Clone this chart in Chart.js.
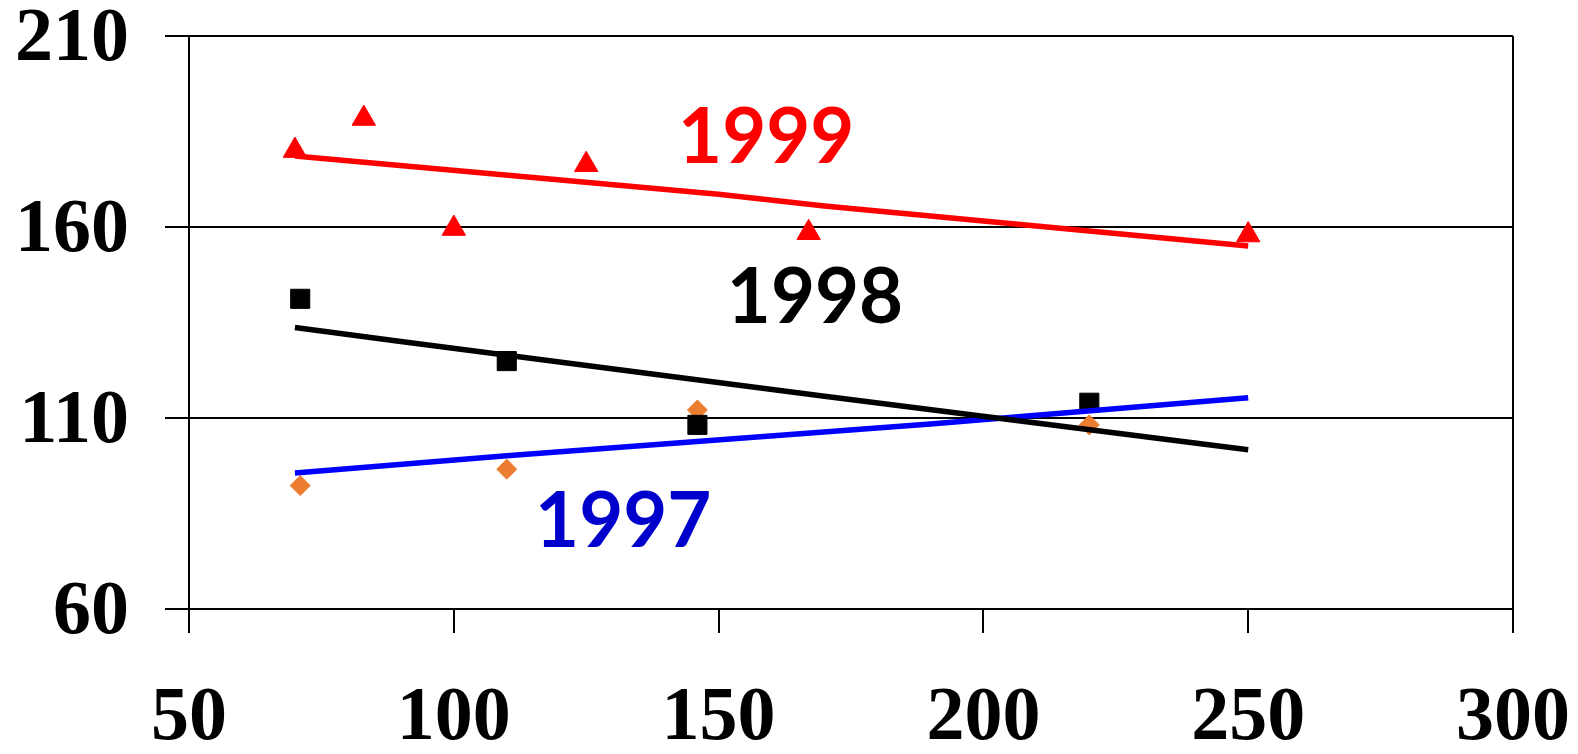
<!DOCTYPE html>
<html>
<head>
<meta charset="utf-8">
<script src="https://cdn.jsdelivr.net/npm/chart.js@4.4.1/dist/chart.umd.min.js"></script>
<style>
  html, body { margin: 0; padding: 0; background: #fff; }
  #chart { display: block; }
</style>
</head>
<body>
<canvas id="chart" width="1578" height="754"></canvas>
<script>
// axis ticks
const xTicks = [50, 100, 150, 200, 250, 300];
const yTicks = [60, 110, 160, 210];

// measured points (markers)
const x1999 = [70, 83, 100, 125, 167, 250];
const y1999 = [180.0, 188.4, 159.6, 176.3, 158.5, 157.9];
const x1998 = [71, 110, 146, 220];
const y1998 = [141.2, 124.9, 108.2, 114.0];
const x1997 = [71, 110, 146, 220];
const y1997 = [92.3, 96.6, 112.1, 108.2];

// trend lines
const line1999X = [70, 150, 170, 250];
const line1999Y = [178.6, 168.6, 165.5, 155.0];
const line1998X = [70, 90, 170, 250];
const line1998Y = [133.7, 130.0, 115.7, 101.7];
const line1997X = [70, 110, 190, 250];
const line1997Y = [95.6, 100.1, 108.4, 115.3];

// year labels inside the plot (data coordinates)
const labelText = ["1999", "1998", "1997"];
const labelX = [159.0, 168.2, 132.0];
const labelY = [183.1, 141.3, 82.6];
const labelColor = ["#ff0000", "#000000", "#0000cc"];

function pts(xs, ys) {
    return xs.map((x, i) => ({ x: x, y: ys[i] }));
}

const yearLabels = {
    id: "yearLabels",
    afterDatasetsDraw(chart) {
        const ctx = chart.ctx;
        const xs = chart.scales.x, ys = chart.scales.y;
        ctx.save();
        ctx.font = "bold 76px Lato";
        ctx.textAlign = "center";
        ctx.textBaseline = "middle";
        labelText.forEach((t, i) => {
            ctx.fillStyle = labelColor[i];
            ctx.fillText(t, xs.getPixelForValue(labelX[i]), ys.getPixelForValue(labelY[i]));
        });
        ctx.restore();
    }
};

function lineSet(xs, ys, color) {
    return {
        data: pts(xs, ys),
        showLine: true,
        borderColor: color,
        borderWidth: 5.5,
        pointRadius: 0,
        fill: false
    };
}

function markSet(xs, ys, color, style, r) {
    return {
        data: pts(xs, ys),
        showLine: false,
        pointStyle: style,
        pointRadius: r,
        backgroundColor: color,
        borderColor: color,
        pointBackgroundColor: color,
        pointBorderColor: color,
        pointBorderWidth: 1
    };
}

const tickFont = { family: "Liberation Serif", size: 76, weight: "bold" };

new Chart(document.getElementById("chart"), {
    type: "scatter",
    data: {
        datasets: [
            lineSet(line1999X, line1999Y, "#ff0000"),
            lineSet(line1998X, line1998Y, "#000000"),
            lineSet(line1997X, line1997Y, "#0000ff"),
            markSet(x1999, y1999, "#ff0000", "triangle", 13.5),
            markSet(x1998, y1998, "#000000", "rect", 13.5),
            markSet(x1997, y1997, "#ed7d31", "rectRot", 10)
        ]
    },
    options: {
        responsive: false,
        animation: false,
        layout: { padding: { top: 36, right: 65, left: 0, bottom: 0 } },
        plugins: {
            legend: { display: false },
            tooltip: { enabled: false }
        },
        scales: {
            x: {
                type: "linear",
                min: 50,
                max: 300,
                afterBuildTicks: s => { s.ticks = xTicks.map(v => ({ value: v })); },
                afterFit: s => { s.height = 145; s.paddingLeft = 0; s.paddingRight = 0; },
                border: { display: false },
                grid: {
                    color: "#000",
                    lineWidth: c => (c.tick && c.tick.value === 300 ? 2 : 0),
                    tickColor: "#000",
                    tickWidth: 2,
                    tickLength: 24
                },
                ticks: { color: "#000", font: tickFont, padding: 41, maxRotation: 0 }
            },
            y: {
                type: "linear",
                min: 60,
                max: 210,
                afterBuildTicks: s => { s.ticks = yTicks.map(v => ({ value: v })); },
                afterFit: s => { s.width = 189; s.paddingTop = 0; s.paddingBottom = 0; },
                border: { display: true, color: "#000", width: 2 },
                grid: {
                    color: "#000",
                    lineWidth: 2,
                    tickColor: "#000",
                    tickWidth: 2,
                    tickLength: 24
                },
                ticks: { color: "#000", font: tickFont, padding: 36, labelOffset: 4 }
            }
        }
    },
    plugins: [yearLabels]
});
</script>
</body>
</html>
